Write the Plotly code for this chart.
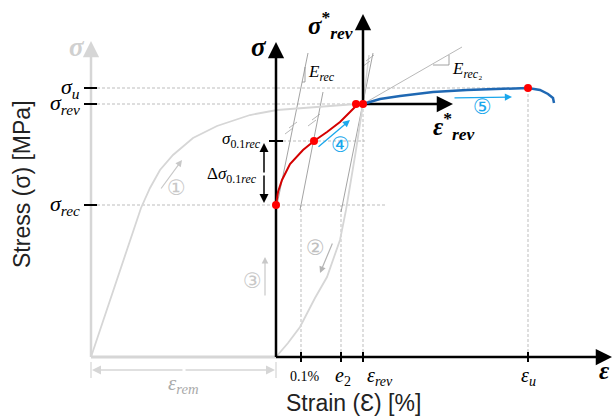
import plotly.graph_objects as go

# ---------------- data (diagram units: strain along x, stress along y) ----------------
# key strain values
eps_rem = -185
eps_01, e2, eps_rev, eps_u = 25, 65, 87, 252
strain_ticks = [eps_01, e2, eps_rev, eps_u]
strain_tick_labels = ["0.1%", "<i>e</i><sub>2</sub>", "<i>ε</i><sub><i>rev</i></sub>", "<i>ε</i><sub><i>u</i></sub>"]
strain_label_shift = [4, 2, 17, 0]

# key stress values
sig_u, sig_rev, sig_01, sig_rec = 269, 253, 216, 152
stress_ticks = [sig_u, sig_rev, sig_rec]
stress_tick_labels = ["<i>σ</i><sub><i>u</i></sub>", "<i>σ</i><sub><i>rev</i></sub>", "<i>σ</i><sub><i>rec</i></sub>"]

# curve (1): initial loading (grey)
load_x = [-185, -176, -166, -156, -146, -135, -126, -116, -103, -83, -59, -26, 1, 24, 54, 80]
load_y = [0, 27, 57, 87, 117, 149, 169, 187, 202, 219, 231, 242, 247, 249, 251, 253]

# curve (2): unloading (grey)
unload_x = [87, 84, 80, 75, 70, 64, 51, 39, 24, 12, 0]
unload_y = [253, 232, 207, 177, 147, 117, 80, 59, 30, 14, 0]

# curve (4): reloading after recovery (red)
reload_x = [0, 2, 6, 14, 27, 38, 51, 64, 74, 80, 87]
reload_y = [152, 165, 177, 193, 207, 216, 225, 235, 245, 251, 253]

# curve (5): reversed loading (blue)
rev_x = [87, 104, 124, 157, 191, 224, 252, 264, 272, 277, 278]
rev_y = [253, 258, 261, 265, 267, 268, 269, 267, 263, 259, 254]

# highlighted points
pts_x = [0, 38, 80, 87, 252]
pts_y = [152, 216, 253, 253, 269]

# construction lines (slopes)
lineA = ([1, 32], [152, 304])      # E_rec tangent
lineB = ([24, 47], [147, 265])     # 0.1% offset
lineC = ([65, 97], [145, 304])     # offset at e2
lineD = ([87, 93], [253, 302])     # unloading tangent
lineE = ([87, 186], [253, 310])    # E_rec2

# ---------------- figure ----------------
fig = go.Figure()
BLACK = "#000000"
LGREY = "#d6d6d6"
MGREY = "#a6a6a6"
DGREY = "#8c8c8c"
RED = "#d40000"
BLUE = "#1f68b3"
CYAN = "#1aa7ec"
SERIF = "Liberation Serif"


def seg(xs, ys, color, width, dash="solid"):
    fig.add_trace(go.Scatter(x=xs, y=ys, mode="lines", hoverinfo="skip",
                             line=dict(color=color, width=width, dash=dash), showlegend=False))


def arrow(x0, y0, x1, y1, color, width, size=1.0, head=2):
    fig.add_annotation(x=x1, y=y1, ax=x0, ay=y0, xref="x", yref="y", axref="x", ayref="y",
                       text="", showarrow=True, arrowhead=head, arrowsize=size,
                       arrowwidth=width, arrowcolor=color, standoff=0, startstandoff=0)


def label(x, y, text, size, color=BLACK, family=SERIF, xanchor="center", yanchor="middle", angle=0):
    fig.add_annotation(x=x, y=y, xref="x", yref="y", text=text, showarrow=False,
                       font=dict(family=family, size=size, color=color),
                       xanchor=xanchor, yanchor=yanchor, textangle=angle)


# dashed guide lines
dash_c = "#b5b5b5"
DASH = "3px,2px"
seg([-179, eps_u], [sig_u, sig_u], dash_c, 0.9, DASH)
seg([-179, eps_rev], [sig_rev, sig_rev], dash_c, 0.9, DASH)
seg([-179, 109], [sig_rec, sig_rec], dash_c, 0.9, DASH)
seg([7, 89], [sig_01, sig_01], dash_c, 0.9, DASH)
seg([eps_01, eps_01], [0, sig_rec], dash_c, 0.9, DASH)
seg([e2, e2], [0, sig_rec], dash_c, 0.9, DASH)
seg([eps_rev, eps_rev], [0, sig_rev], dash_c, 0.9, DASH)
seg([eps_u, eps_u], [0, sig_u], dash_c, 0.9, DASH)

# construction lines
seg(*lineA, DGREY, 0.8)
seg(*lineB, DGREY, 0.8)
seg(*lineC, DGREY, 0.8)
seg(*lineD, LGREY, 1.4)
seg(*lineE, MGREY, 0.8)

# slope triangles
seg([26, 29, 29], [275, 275, 290], DGREY, 0.8)
seg([157, 173, 173], [292, 292, 302], DGREY, 0.8)

# hash marks (parallel indicators)
for hx, hy in [(15, 229), (38, 237), (92, 296)]:
    for d in (-2, 2):
        seg([hx - 4 + d, hx + 4 + d], [hy - 3 + d * 1.5, hy + 3 + d * 1.5], MGREY, 0.8)

# grey original axes
seg([eps_rem, eps_rem], [0, 305], LGREY, 2.5)
arrow(eps_rem, 300, eps_rem, 316, LGREY, 2.5, 1.3)
seg([eps_rem, 0], [0, 0], LGREY, 3)

# grey curves
seg(load_x, load_y, LGREY, 1.8)
seg(unload_x, unload_y, LGREY, 1.8)

# main axes
seg([0, 0], [0, 305], BLACK, 2.5)
arrow(0, 300, 0, 315, BLACK, 2.5, 1.3)
seg([0, 326], [0, 0], BLACK, 2.5)
arrow(320, 0, 336, 0, BLACK, 2.5, 1.3)

# reversed axes
seg([eps_rev, eps_rev], [sig_rev, 333], BLACK, 2.5)
arrow(eps_rev, 328, eps_rev, 343, BLACK, 2.5, 1.3)
seg([eps_rev, 166], [sig_rev, sig_rev], BLACK, 2.5)
arrow(160, sig_rev, 177, sig_rev, BLACK, 2.5, 1.3)

# tick marks
for sv in stress_ticks:
    seg([-192, -179], [sv, sv], BLACK, 2)
seg([-7, 7], [sig_01, sig_01], BLACK, 2)
for ev in strain_ticks:
    seg([ev, ev], [-5, 5], BLACK, 2)

# coloured curves
seg(reload_x, reload_y, RED, 2)
seg(rev_x, rev_y, BLUE, 2.5)
fig.add_trace(go.Scatter(x=pts_x, y=pts_y, mode="markers", hoverinfo="skip", showlegend=False,
                         marker=dict(color="#ff0000", size=8)))

# delta sigma double arrow
arrow(-12, 183, -12, 214, BLACK, 1.5, 1.2)
arrow(-12, 183, -12, 154, BLACK, 1.5, 1.2)

# eps_rem dimension
seg([eps_rem, eps_rem], [-5, -21], LGREY, 1.2)
seg([0, 0], [-5, -21], LGREY, 1.2)
arrow(-92, -13, eps_rem + 1, -13, LGREY, 1.5, 1.2)
arrow(-92, -13, -1, -13, LGREY, 1.5, 1.2)

# step arrows
arrow(-116, 167, -94, 197, "#c8c8c8", 1.2, 1.1)
arrow(57, 115, 44, 84, "#b4b4b4", 1.2, 1.1)
arrow(-11, 60, -11, 100, "#c8c8c8", 1.2, 1.1)
arrow(41, 209, 74, 237, CYAN, 1.3, 1.1)
arrow(177, 259, 236, 260, CYAN, 1.3, 1.1)

label(-100, 169, "①", 21, "#c8c8c8", "DejaVu Sans")
label(39, 109, "②", 21, "#c0c0c0", "DejaVu Sans")
label(-24, 76, "③", 21, "#c8c8c8", "DejaVu Sans")
label(64, 212, "④", 21, CYAN, "DejaVu Sans")
label(206, 250, "⑤", 21, CYAN, "DejaVu Sans")

# stress labels
for sv, txt in zip(stress_ticks, stress_tick_labels):
    label(-194, sv, txt, 22, xanchor="right")
label(-13, sig_01 + 1, "<i>σ</i><sub>0.1<i>rec</i></sub>", 17, xanchor="right")
label(-17, 182, "Δ<i>σ</i><sub>0.1<i>rec</i></sub>", 17, xanchor="right")

# strain labels
for ev, txt, sh in zip(strain_ticks, strain_tick_labels, strain_label_shift):
    size = 14 if txt == "0.1%" else 20
    label(ev + sh, -19, txt, size)
label(-93, -27, "<i>ε</i><sub><i>rem</i></sub>", 21, "#aaaaaa")

# slope labels
label(30, 284, "<i>E</i><sub><i>rec</i></sub>", 17, xanchor="left")
label(174, 287, "<i>E</i><sub><i>rec</i>₂</sub>", 17, xanchor="left")

# axis symbols
label(-199, 310, "<b><i>σ</i></b>", 27, "#d0d0d0")
label(-17, 310, "<b><i>σ</i></b>", 27)
label(54, 332, "<b><i>σ</i></b><sup><b>*</b></sup><sub><b><i>rev</i></b></sub>", 25)
label(178, 231, "<b><i>ε</i></b><sup><b>*</b></sup><sub><b><i>rev</i></b></sub>", 25)
label(328, -13, "<b><i>ε</i></b>", 25)

# axis titles
label(77, -46, "Strain (Ɛ) [%]", 23, "#222222", "Liberation Sans")
label(-254, 173, "Stress (σ) [MPa]", 23, "#222222", "Liberation Sans", angle=-90)

fig.update_layout(
    width=614, height=417,
    margin=dict(l=0, r=0, t=0, b=0),
    paper_bgcolor="white", plot_bgcolor="white",
    xaxis=dict(range=[-276, 338], visible=False, fixedrange=True),
    yaxis=dict(range=[-60, 357], visible=False, fixedrange=True),
    showlegend=False,
    hovermode=False,
)
fig.write_html("out.html",
               config={"displayModeBar": False, "staticPlot": True},
               post_script="document.body.style.margin='0';document.body.style.overflow='hidden';")
